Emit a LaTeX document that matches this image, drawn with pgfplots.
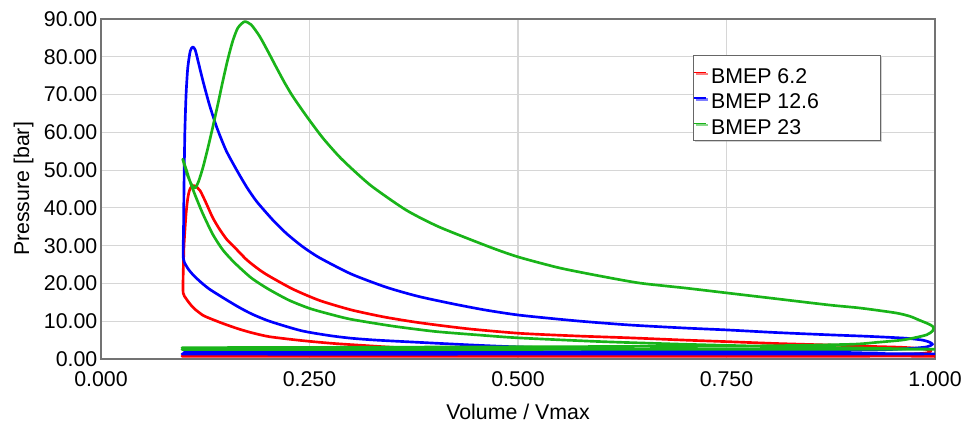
\documentclass[border=0pt]{standalone}
\usepackage{pgfplots}
\pgfplotsset{compat=1.18}
\usepackage{fontspec}
\setmainfont{Liberation Sans}
\usetikzlibrary{shadows}
\definecolor{cred}{RGB}{255,0,0}
\definecolor{cblue}{RGB}{0,0,255}
\definecolor{cgreen}{RGB}{25,180,25}
\newcommand{\lf}{\fontsize{16}{18}\selectfont}
\begin{document}
\begin{tikzpicture}[x=1pt,y=1pt]
\begin{axis}[
  at={(0,0)}, anchor=south west,
  scale only axis, width=625.5pt, height=255pt,
  xmin=0, xmax=1, ymin=0, ymax=90,
  xtick={0,0.25,0.5,0.75,1}, ytick={0,10,...,90},
  grid=major, major grid style={draw=black!16, line width=0.9pt},
  major tick length=0pt,
  axis line style={draw=black!55, line width=1.2pt},
  scaled ticks=false,
  tick label style={font=\lf, /pgf/number format/assume math mode=true},
  xticklabel style={/pgf/number format/.cd, fixed, fixed zerofill, precision=3, /tikz/.cd, yshift=-6pt},
  yticklabel style={/pgf/number format/.cd, fixed, fixed zerofill, precision=2, /tikz/.cd, xshift=0.8pt},
  xlabel={Volume / Vmax}, ylabel={Pressure [bar]},
  label style={font=\lf},
  xlabel style={at={(axis description cs:0.5,-0.1765)}, anchor=base},
  ylabel style={at={(axis description cs:-0.0863,0.5)}, anchor=base, rotate=0},
  legend cell align=left,
  legend image code/.code={\draw[#1, line width=1.2pt] (0pt,0pt) -- (9pt,0pt);},
  legend style={at={(axis description cs:0.7098,0.894)}, anchor=north west,
    draw=black!60, line width=0.8pt, fill=white, font=\lf,
    drop shadow={shadow xshift=1.2pt, shadow yshift=-1.2pt, fill=black!35},
    inner xsep=0pt, inner ysep=3.07pt, row sep=0pt, column sep=0pt,
    nodes={inner xsep=1pt, inner ysep=0pt, text height=17.7pt, text depth=1.4pt}},
  every axis plot/.append style={line join=round, smooth, tension=0.4, line width=2pt},
]
\addplot[cred] coordinates {
(1.0,0.75)(0.9,0.85)(0.8,1.0)(0.7,1.2)(0.6,1.5)(0.5,1.9)(0.45,2.2)(0.4,2.6)(0.35,3.1)(0.3,3.8)(0.274,4.2)(0.24,4.9)(0.202,5.9)(0.18,7.0)(0.163,8.1)(0.145,9.5)(0.13,10.8)(0.122,11.6)(0.112,13.3)(0.107,14.5)(0.102,16)(0.0985,17.5)
(0.0985,22)(0.099,26)(0.0995,30)(0.1006,34)(0.102,38.5)(0.104,42.5)(0.106,44.6)(0.109,45.8)(0.113,45.8)(0.119,44.5)(0.126,41.3)(0.134,37.4)(0.142,34.4)(0.151,31.6)(0.16,29.6)(0.175,26.2)(0.19,23.6)(0.202,21.9)(0.23,18.5)(0.262,15.5)(0.3,13.0)(0.34,11.1)(0.382,9.6)(0.44,8.0)(0.502,6.8)(0.57,6.1)(0.634,5.6)(0.7,5.0)(0.75,4.6)(0.81,4.1)(0.873,3.7)(0.92,3.35)(0.96,3.1)(0.985,2.7)(0.995,2.2)(0.99,1.6)(0.96,1.3)
(0.8,1.2)(0.5,1.15)(0.2,1.1)(0.11,1.1)(0.1,1.05)
(0.1,0.8)(0.11,0.72)(0.3,0.7)(0.6,0.72)(0.9,0.75)(1.0,0.75)
};
\addlegendentry{\hspace{2pt}\makebox[126pt][l]{BMEP 6.2}}
\addplot[cblue] coordinates {
(1.0,1.35)(0.9,1.5)(0.8,1.75)(0.7,2.1)(0.6,2.6)(0.5,3.2)(0.45,3.65)(0.382,4.4)(0.33,5.0)(0.3,5.5)(0.274,6.2)(0.24,7.5)(0.202,10.0)(0.18,12.0)(0.163,14.0)(0.145,16.4)(0.13,18.5)(0.122,19.9)(0.112,21.9)(0.105,23.7)(0.1,25.6)(0.0985,27.5)
(0.099,35)(0.0995,45)(0.1,53)(0.1006,60.6)(0.102,70)(0.104,77)(0.107,81.5)(0.11,82.6)(0.113,81.8)(0.117,78.3)(0.122,73.8)(0.13,67.3)(0.139,61.2)(0.15,55.2)(0.163,49.9)(0.175,45.4)(0.187,41.6)(0.206,36.8)(0.223,33.1)(0.242,29.7)(0.262,26.8)(0.3,22.5)(0.342,19.0)(0.38,16.6)(0.422,14.6)(0.46,13.0)(0.502,11.6)(0.57,10.1)(0.634,9.0)(0.7,8.2)(0.75,7.7)(0.81,7.0)(0.873,6.4)(0.92,6.0)(0.965,5.5)(0.985,5.0)(0.993,4.5)(0.997,3.9)(0.99,3.2)(0.97,2.8)(0.93,2.4)
(0.8,2.1)(0.5,1.9)(0.2,1.8)(0.11,1.8)(0.1,1.75)
(0.1,1.35)(0.11,1.3)(0.3,1.27)(0.6,1.3)(0.9,1.33)(1.0,1.35)
};
\addlegendentry{\hspace{2pt}\makebox[126pt][l]{BMEP 12.6}}
\addplot[cgreen] coordinates {
(1.0,2.6)(0.95,2.75)(0.9,2.95)(0.8,3.35)(0.7,3.9)(0.6,4.6)(0.5,5.6)(0.45,6.4)(0.4,7.3)(0.35,8.7)(0.3,10.5)(0.274,11.9)(0.25,13.4)(0.225,15.6)(0.2,18.6)(0.18,21.5)(0.16,25.5)(0.146,28.9)(0.134,33)(0.122,38.5)(0.113,43.3)(0.107,46.8)(0.102,50.3)(0.098,52.9)
(0.104,48.5)(0.109,46)(0.113,45.3)(0.117,47)(0.122,50.5)(0.127,54.8)(0.133,60.4)(0.14,67.3)(0.146,73.5)(0.152,79.3)(0.158,84.2)(0.164,87.6)(0.172,89.3)(0.18,88.5)(0.19,85.5)(0.2,81.5)(0.21,77.3)(0.22,73.2)(0.23,69.5)(0.247,64.1)(0.266,58.5)(0.286,53.5)(0.306,49.3)(0.326,45.5)(0.366,39.4)(0.406,34.9)(0.469,29.4)(0.502,26.9)(0.55,24.1)(0.6,21.9)(0.646,20.1)(0.7,18.8)(0.75,17.5)(0.8,16.2)(0.873,14.3)(0.91,13.5)(0.953,12.2)(0.97,11.3)(0.981,10.3)(0.992,9.3)(0.998,8.5)(0.997,7.4)(0.99,6.4)(0.975,5.6)(0.96,5.0)(0.93,4.4)(0.9,3.9)
(0.8,3.5)(0.6,3.3)(0.3,3.1)(0.11,3.0)(0.1,2.95)
(0.1,2.55)(0.11,2.5)(0.3,2.5)(0.6,2.55)(0.9,2.6)(1.0,2.6)
};
\addlegendentry{\hspace{2pt}\makebox[126pt][l]{BMEP 23}}
\end{axis}
\pgfresetboundingbox
\useasboundingbox (-75.75pt,-52.5pt) rectangle (648.75pt,269.25pt);
\end{tikzpicture}
\end{document}
